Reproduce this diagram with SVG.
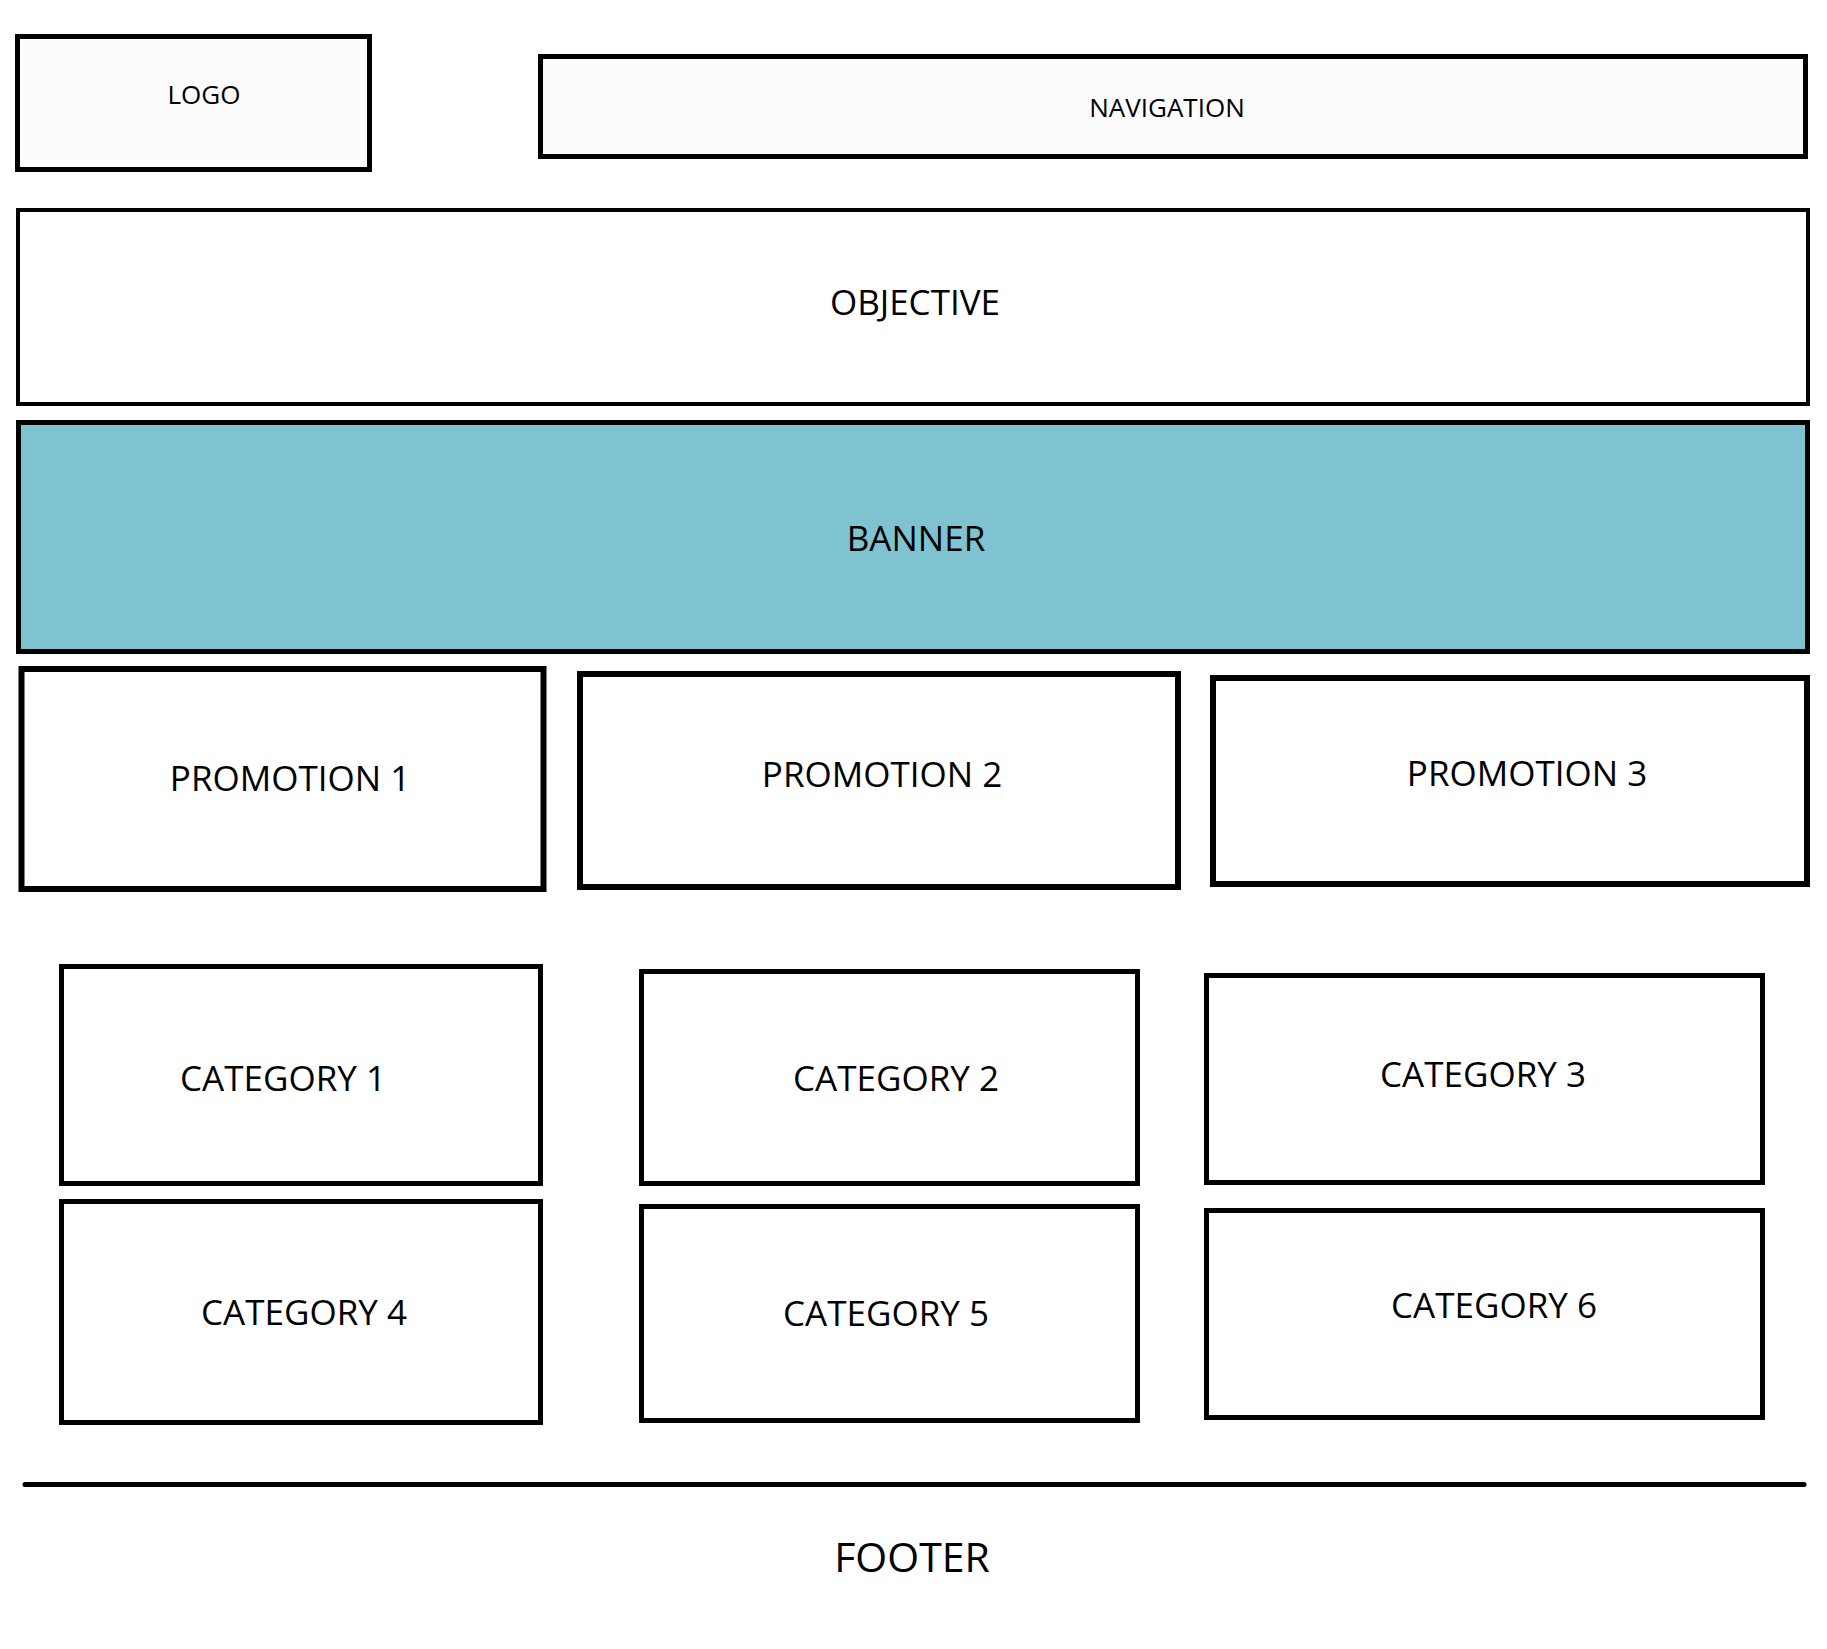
<svg xmlns="http://www.w3.org/2000/svg" width="1827" height="1649" viewBox="0 0 1827 1649">
<style>
.box{fill:#ffffff;stroke:#000000;stroke-width:5}
.lbl{font-family:"Open Sans","Liberation Sans",sans-serif;fill:#000000;text-anchor:middle}
.s{font-size:26px}
.m{font-size:35px}
.c{font-size:35px}
</style>
<rect width="1827" height="1649" fill="#ffffff"/>
<g id="logo"><rect class="box" x="17.5" y="36.5" width="352" height="133" style="fill:#fcfcfc"/><text class="lbl s" x="204" y="104">LOGO</text></g>
<g id="navigation"><rect class="box" x="540.5" y="56.5" width="1265" height="100" style="fill:#fbfbfb"/><text class="lbl s" x="1167" y="117">NAVIGATION</text></g>
<g id="objective"><rect class="box" x="18" y="210" width="1790" height="194" style="stroke-width:4"/><text class="lbl m" x="915" y="315">OBJECTIVE</text></g>
<g id="banner"><rect class="box" x="18.5" y="422.5" width="1789" height="229" style="fill:#7fc3d0"/><text class="lbl m" x="916" y="551">BANNER</text></g>
<g id="promotion1"><rect class="box" x="21.5" y="669" width="522" height="220" style="stroke-width:6"/><text class="lbl m" x="290" y="791">PROMOTION 1</text></g>
<g id="promotion2"><rect class="box" x="580" y="674" width="598" height="213" style="stroke-width:6"/><text class="lbl m" x="882" y="787">PROMOTION 2</text></g>
<g id="promotion3"><rect class="box" x="1213" y="678" width="594" height="206" style="stroke-width:6"/><text class="lbl m" x="1527" y="786">PROMOTION 3</text></g>
<g id="category1"><rect class="box" x="61.5" y="966.5" width="479" height="217"/><text class="lbl c" x="283" y="1091">CATEGORY 1</text></g>
<g id="category2"><rect class="box" x="641.5" y="971.5" width="496" height="212"/><text class="lbl c" x="896" y="1091">CATEGORY 2</text></g>
<g id="category3"><rect class="box" x="1206.5" y="975.5" width="556" height="207"/><text class="lbl c" x="1483" y="1087">CATEGORY 3</text></g>
<g id="category4"><rect class="box" x="61.5" y="1201.5" width="479" height="221"/><text class="lbl c" x="304" y="1325">CATEGORY 4</text></g>
<g id="category5"><rect class="box" x="641.5" y="1206.5" width="496" height="214"/><text class="lbl c" x="886" y="1326">CATEGORY 5</text></g>
<g id="category6"><rect class="box" x="1206.5" y="1210.5" width="556" height="207"/><text class="lbl c" x="1494" y="1318">CATEGORY 6</text></g>
<g id="footer"><line x1="25" y1="1484.5" x2="1804" y2="1484.5" stroke="#000000" stroke-width="5" stroke-linecap="round"/><text class="lbl" style="font-size:41px" x="912" y="1572">FOOTER</text></g>
<g id="connectors"></g>
</svg>
